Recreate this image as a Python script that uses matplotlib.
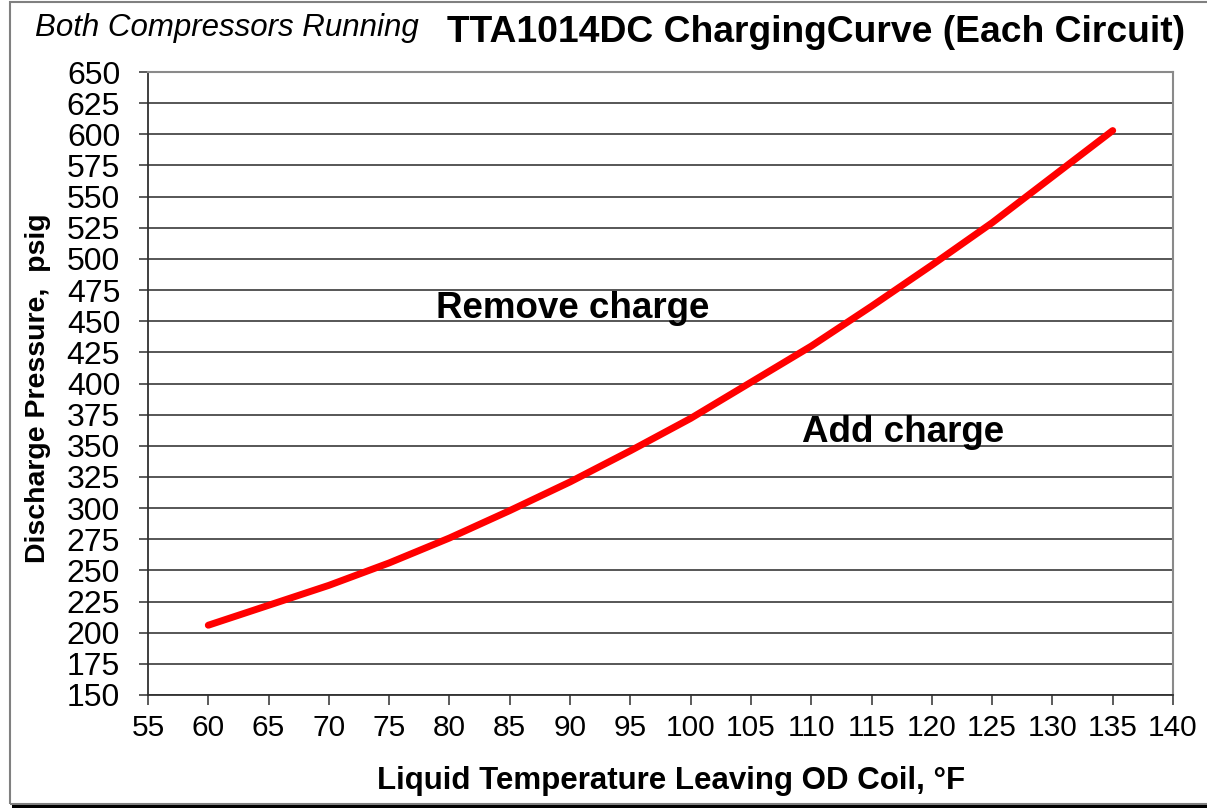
import matplotlib

matplotlib.use("Agg")
import matplotlib.pyplot as plt
from matplotlib.patches import Rectangle

plt.rcParams["font.family"] = ["Liberation Sans", "DejaVu Sans"]

# liquid temperature (F) vs discharge pressure (psig)
temp_f = [60, 65, 70, 75, 80, 85, 90, 95, 100, 105, 110, 115, 120, 125, 130, 135]
pressure_psig = [206, 222, 238, 256, 276, 298, 321, 346, 372, 401, 430, 462, 495, 529, 566, 603]

x_ticks = list(range(55, 141, 5))
y_ticks = list(range(150, 651, 25))

W, H = 1207, 808
fig = plt.figure(figsize=(W / 100, H / 100), dpi=100)
ax = fig.add_axes([148 / W, 1 - 695 / H, (1173 - 148) / W, (695 - 72) / H])

# outer chart frame with a dark shadow at the bottom
fig.patches.append(Rectangle((10 / W, 4 / H), 1.2, 1 - 6 / H, transform=fig.transFigure,
                             fill=False, ec="#808080", lw=1.5, zorder=0))
fig.patches.append(Rectangle((12 / W, 0), 1.2, 3 / H, transform=fig.transFigure,
                             fc="black", ec="none", zorder=0))

ax.plot(temp_f, pressure_psig, color="#ff0000", lw=5, solid_capstyle="round", zorder=3)

ax.set_xlim(55, 140)
ax.set_ylim(150, 650)
ax.set_xticks(x_ticks)
ax.set_yticks(y_ticks)
ax.tick_params(axis="both", direction="out", width=1.2, color="#404040")
ax.tick_params(axis="y", length=6.5, pad=13.5, labelsize=23)
ax.tick_params(axis="x", length=7, pad=6.5, labelsize=21.5)
ax.yaxis.grid(True, color="#3a3a3a", lw=1.2)
ax.set_axisbelow(True)
for side in ("left", "bottom"):
    ax.spines[side].set_color("#303030")
    ax.spines[side].set_linewidth(1.3)
for side in ("top", "right"):
    ax.spines[side].set_color("#8a8a8a")
    ax.spines[side].set_linewidth(1.5)

ax.text(90.2, 460, "Remove charge", fontsize=26.5, fontweight="bold", ha="center", va="center")
ax.text(117.6, 361, "Add charge", fontsize=26.5, fontweight="bold", ha="center", va="center")

fig.text(38 / W, 1 - 388 / H, "Discharge Pressure,  psig", rotation=90, fontsize=20.5,
         fontweight="bold", ha="center", va="center")
fig.text(671 / W, 1 - 781 / H, "Liquid Temperature Leaving OD Coil, °F", fontsize=22.5,
         fontweight="bold", ha="center", va="center")
fig.text(35 / W, 1 - 28 / H, "Both Compressors Running", fontsize=22.5, style="italic",
         ha="left", va="center")
fig.text(1185 / W, 1 - 32 / H, "TTA1014DC ChargingCurve (Each Circuit)", fontsize=26.8,
         fontweight="bold", ha="right", va="center")

fig.savefig("out.png", dpi=100)
